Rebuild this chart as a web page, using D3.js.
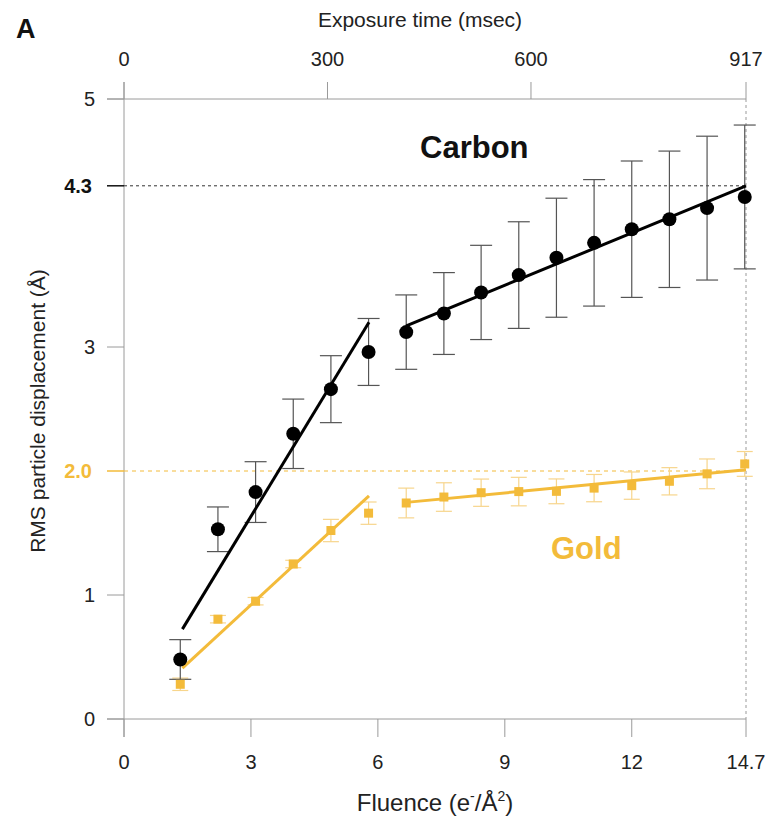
<!DOCTYPE html>
<html>
<head>
<meta charset="utf-8">
<title>RMS displacement</title>
<script src="https://cdn.jsdelivr.net/npm/d3@7/dist/d3.min.js"></script>
<style>
  body { margin: 0; background: #fff; }
  text { font-family: "Liberation Sans", Arial, Helvetica, sans-serif; }
</style>
</head>
<body>
<div id="chart"></div>
<script>
// fluence of each frame (e-/A^2)
var fluence = [1.33, 2.22, 3.11, 4.0, 4.89, 5.78, 6.67, 7.56, 8.44, 9.33, 10.22, 11.11, 12.0, 12.89, 13.78, 14.67];
var carbon    = [0.48, 1.53, 1.83, 2.30, 2.66, 2.96, 3.12, 3.27, 3.44, 3.58, 3.72, 3.84, 3.95, 4.03, 4.12, 4.21];
var carbonErr = [0.16, 0.18, 0.245, 0.28, 0.27, 0.27, 0.30, 0.33, 0.38, 0.43, 0.48, 0.51, 0.55, 0.55, 0.58, 0.58];
var gold      = [0.28, 0.805, 0.95, 1.25, 1.52, 1.66, 1.742, 1.79, 1.825, 1.834, 1.836, 1.862, 1.882, 1.917, 1.977, 2.057];
var goldErr   = [0.05, 0.03, 0.03, 0.03, 0.09, 0.09, 0.12, 0.115, 0.11, 0.115, 0.10, 0.11, 0.11, 0.11, 0.12, 0.10];

// two-phase linear fits [fluence, displacement]
var carbonFit1 = [[1.38, 0.725], [5.79, 3.20]];
var carbonFit2 = [[6.67, 3.17], [14.7, 4.30]];
var goldFit1   = [[1.38, 0.41], [5.79, 1.80]];
var goldFit2   = [[6.67, 1.747], [14.7, 2.01]];

var bottomTicks = [0, 3, 6, 9, 12, 14.7];
var topTicks = [0, 300, 600, 917];
var leftTicks = [0, 1, 3, 5];

var width = 767, height = 820;
var gold_c = "#f3bb3a", goldLight = "#f7d58c";
var tickSize = 20;

var svg = d3.select("#chart").append("svg")
  .attr("width", width)
  .attr("height", height);

var x = d3.scaleLinear().domain([0, 14.7]).range([124, 746]);
var xt = d3.scaleLinear().domain([0, 917]).range([124, 746]);
var y = d3.scaleLinear().domain([0, 5]).range([719, 99]);

// axis frame lines
svg.append("line").attr("x1", 124).attr("x2", 124).attr("y1", 82).attr("y2", 737)
  .attr("stroke", "#9a9a9a");
svg.append("line").attr("x1", 107).attr("x2", x(14.7)).attr("y1", y(0)).attr("y2", y(0))
  .attr("stroke", "#9a9a9a");
svg.append("line").attr("x1", 107).attr("x2", x(14.7)).attr("y1", y(5)).attr("y2", y(5))
  .attr("stroke", "#9a9a9a");

// bottom ticks
svg.selectAll(".bt").data(bottomTicks).enter().append("line")
  .attr("x1", function(d) { return x(d); }).attr("x2", function(d) { return x(d); })
  .attr("y1", y(0)).attr("y2", 737).attr("stroke", "#9a9a9a");
svg.selectAll(".bl").data(bottomTicks).enter().append("text")
  .attr("x", function(d) { return x(d); }).attr("y", 769)
  .attr("text-anchor", "middle").attr("font-size", tickSize).attr("fill", "#222")
  .text(function(d) { return d; });

// top ticks
svg.selectAll(".tt").data(topTicks).enter().append("line")
  .attr("x1", function(d) { return xt(d); }).attr("x2", function(d) { return xt(d); })
  .attr("y1", 82).attr("y2", y(5)).attr("stroke", "#9a9a9a");
svg.selectAll(".tl").data(topTicks).enter().append("text")
  .attr("x", function(d) { return xt(d); }).attr("y", 66)
  .attr("text-anchor", "middle").attr("font-size", tickSize).attr("fill", "#222")
  .text(function(d) { return d; });

// left ticks
svg.selectAll(".lt").data(leftTicks).enter().append("line")
  .attr("x1", 107).attr("x2", 124)
  .attr("y1", function(d) { return y(d); }).attr("y2", function(d) { return y(d); })
  .attr("stroke", "#9a9a9a");
svg.selectAll(".ll").data(leftTicks).enter().append("text")
  .attr("x", 95).attr("y", function(d) { return y(d) + 7; })
  .attr("text-anchor", "end").attr("font-size", tickSize).attr("fill", "#222")
  .text(function(d) { return d; });

// reference levels
svg.append("line").attr("x1", 107).attr("x2", 124).attr("y1", y(4.3)).attr("y2", y(4.3))
  .attr("stroke", "#111").attr("stroke-width", 1.5);
svg.append("line").attr("x1", 124).attr("x2", x(14.7)).attr("y1", y(4.3)).attr("y2", y(4.3))
  .attr("stroke", "#333").attr("stroke-dasharray", "3,3");
svg.append("text").attr("x", 92).attr("y", y(4.3) + 7).attr("text-anchor", "end")
  .attr("font-size", tickSize).attr("font-weight", "bold").attr("fill", "#111").text("4.3");

svg.append("line").attr("x1", 107).attr("x2", 124).attr("y1", y(2)).attr("y2", y(2))
  .attr("stroke", gold_c).attr("stroke-width", 1.5);
svg.append("line").attr("x1", 124).attr("x2", x(14.7)).attr("y1", y(2)).attr("y2", y(2))
  .attr("stroke", gold_c).attr("stroke-dasharray", "4,4");
svg.append("text").attr("x", 92).attr("y", y(2) + 7).attr("text-anchor", "end")
  .attr("font-size", tickSize).attr("font-weight", "bold").attr("fill", gold_c).text("2.0");

svg.append("line").attr("x1", x(14.7)).attr("x2", x(14.7)).attr("y1", y(5)).attr("y2", y(0))
  .attr("stroke", "#9a9a9a").attr("stroke-dasharray", "3,3");

// error bars
function errorBars(vals, errs, color, cap, w) {
  var g = svg.append("g").attr("stroke", color).attr("stroke-width", w);
  vals.forEach(function(v, i) {
    var cx = x(fluence[i]);
    g.append("line").attr("x1", cx).attr("x2", cx).attr("y1", y(v - errs[i])).attr("y2", y(v + errs[i]));
    g.append("line").attr("x1", cx - cap).attr("x2", cx + cap).attr("y1", y(v - errs[i])).attr("y2", y(v - errs[i]));
    g.append("line").attr("x1", cx - cap).attr("x2", cx + cap).attr("y1", y(v + errs[i])).attr("y2", y(v + errs[i]));
  });
}
errorBars(gold, goldErr, goldLight, 8, 1.2);
errorBars(carbon, carbonErr, "#555", 11, 1.2);

// fits
var line = d3.line().x(function(d) { return x(d[0]); }).y(function(d) { return y(d[1]); });
[goldFit1, goldFit2].forEach(function(f) {
  svg.append("path").attr("d", line(f)).attr("stroke", gold_c).attr("stroke-width", 3).attr("fill", "none");
});
[carbonFit1, carbonFit2].forEach(function(f) {
  svg.append("path").attr("d", line(f)).attr("stroke", "#000").attr("stroke-width", 3).attr("fill", "none");
});

// markers
svg.selectAll(".gm").data(gold).enter().append("rect")
  .attr("x", function(d, i) { return x(fluence[i]) - 4.5; })
  .attr("y", function(d) { return y(d) - 4.5; })
  .attr("width", 9).attr("height", 9).attr("fill", gold_c);
svg.selectAll(".cm").data(carbon).enter().append("circle")
  .attr("cx", function(d, i) { return x(fluence[i]); })
  .attr("cy", function(d) { return y(d); })
  .attr("r", 7).attr("fill", "#000");

// labels
svg.append("text").attr("x", 420).attr("y", 158).attr("font-size", 31).attr("font-weight", "bold")
  .attr("fill", "#111").text("Carbon");
svg.append("text").attr("x", 551).attr("y", 559).attr("font-size", 31).attr("font-weight", "bold")
  .attr("fill", gold_c).text("Gold");
svg.append("text").attr("x", 16).attr("y", 38).attr("font-size", 27).attr("font-weight", "bold")
  .attr("fill", "#111").text("A");
svg.append("text").attr("x", 420).attr("y", 27).attr("text-anchor", "middle").attr("font-size", 21)
  .attr("fill", "#222").text("Exposure time (msec)");
svg.append("text").attr("transform", "translate(45,411) rotate(-90)").attr("text-anchor", "middle")
  .attr("font-size", 21).attr("fill", "#222").text("RMS particle displacement (Å)");

var fl = svg.append("text").attr("x", 435).attr("y", 811).attr("text-anchor", "middle")
  .attr("font-size", 24).attr("fill", "#222");
fl.append("tspan").text("Fluence (e");
fl.append("tspan").attr("dy", -10).attr("font-size", 14).text("-");
fl.append("tspan").attr("dy", 10).text("/Å");
fl.append("tspan").attr("dy", -10).attr("font-size", 14).text("2");
fl.append("tspan").attr("dy", 10).text(")");
</script>
</body>
</html>
